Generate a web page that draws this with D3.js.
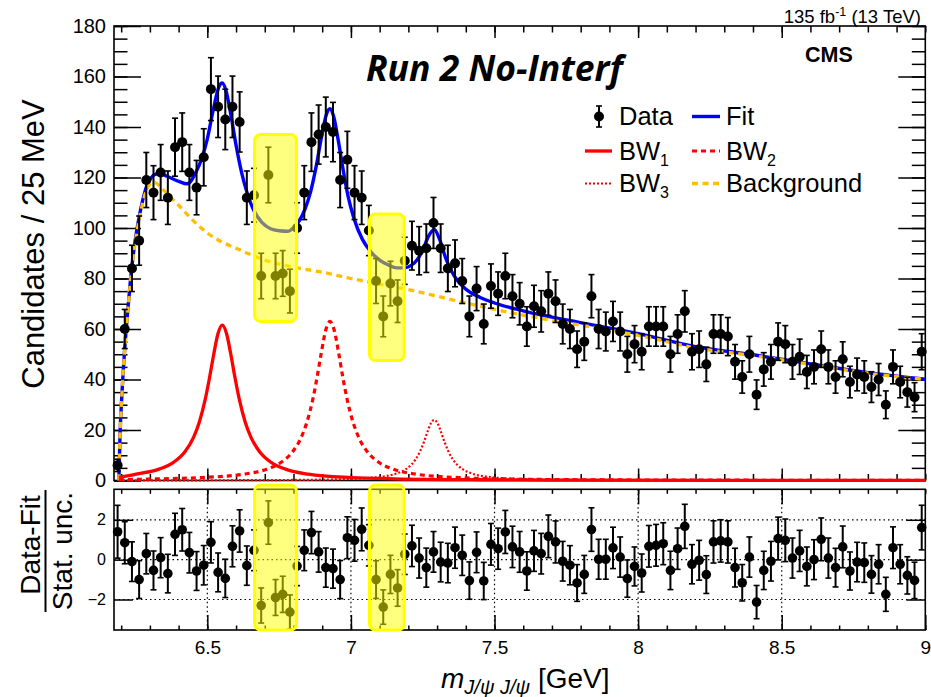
<!DOCTYPE html>
<html>
<head>
<meta charset="utf-8">
<script src="https://cdn.jsdelivr.net/npm/d3@7"></script>
<style>
  body { margin: 0; background: #fff; }
  svg { display: block; font-family: "Liberation Sans", Arial, Helvetica, sans-serif; }
</style>
</head>
<body>
<svg id="chart" width="931" height="697"></svg>
<script>
// ---- binning of the di-J/psi mass spectrum (25 MeV bins) ----
const binLow = 6.175;
const binWidth = 0.025;

// candidates per bin
const counts = [
  6, 60, 84, 95, 119, 114, 122, 112, 132, 134,
  122, 116, 128, 155, 148, 143, 148, 142, 112, 113,
  81, 121, 81, 82, 75, 100, 114, 134, 137, 140,
  138, 119, 127, 114, 112, 99, 79, 65, 78, 71,
  87, 93, 91, 92, 102, 92, 84, 86, 79, 65,
  76, 62, 77, 74, 81, 73, 70, 61, 69, 67,
  74, 71, 62, 60, 52, 55, 73, 60, 59, 63,
  59, 50, 54, 51, 61, 61, 61, 50, 58, 67,
  51, 52, 46, 58, 58, 57, 47, 41, 50, 34,
  44, 47, 55, 54, 47, 49, 43, 45, 52, 45,
  41, 48, 39, 42, 41, 37, 40, 30, 45, 39,
  35, 33, 51
];

// (data - fit) / stat. unc. per bin
const pulls = [
  1.4, 0.85, -0.1, -1.0, 0.3, -0.54, 0.1, -0.7, 1.27, 1.5,
  0.35, -0.57, -0.28, 0.87, -0.64, -0.94, 0.67, 1.44, -0.3, 0.47,
  -2.3, 1.86, -1.9, -1.74, -2.63, -0.32, 0.47, 1.36, 0.39, -0.4,
  -0.45, -1.0, 1.1, 0.97, 1.52, 0.72, -1.0, -2.38, -0.74, -1.42,
  0.27, 0.69, 0.08, -0.4, 0.39, -0.12, -0.17, 0.6, 0.22, -1.05,
  0.37, -1.07, 0.77, 0.55, 1.39, 0.64, 0.39, -0.57, 0.44, 0.3,
  1.17, 0.89, -0.08, -0.28, -1.17, -0.74, 1.51, 0.02, 0.02, 0.59,
  0.13, -0.95, -0.34, -0.67, 0.67, 0.72, 0.8, -0.54, 0.55, 1.67,
  -0.23, -0.03, -0.75, 0.89, 0.94, 0.89, -0.4, -1.16, 0.13, -2.13,
  -0.54, -0.08, 1.06, 0.97, 0.08, 0.44, -0.34, 0, 1.02, 0.08,
  -0.4, 0.64, -0.57, -0.12, -0.15, -0.74, -0.23, -1.74, 0.6, -0.23,
  -0.79, -1.04, 1.61
];

// fit model curves, [mass GeV, candidates / 25 MeV]
const fitCurve = [
  [6.192, 0], [6.196, 18], [6.203, 35], [6.211, 50], [6.22, 63.5], [6.23, 76.5],
  [6.24, 87.5], [6.25, 96], [6.262, 104], [6.275, 111], [6.29, 117], [6.305, 120],
  [6.32, 121.3], [6.335, 121.6], [6.36, 120.5], [6.4, 118.5], [6.43, 117.5], [6.46, 122],
  [6.48, 127.3], [6.5, 135.3], [6.52, 146.5], [6.54, 155.8], [6.552, 157.4], [6.565, 154.4],
  [6.58, 146.1], [6.6, 132.8], [6.62, 121.6], [6.64, 113.4], [6.66, 107.4], [6.69, 102.2],
  [6.72, 99.7], [6.75, 98.9], [6.78, 98.7], [6.8, 100.1], [6.82, 102.8], [6.84, 107.5],
  [6.86, 114.5], [6.88, 125], [6.9, 137.6], [6.915, 145.1], [6.927, 147.2], [6.94, 144.1],
  [6.955, 135.3], [6.97, 125], [6.99, 112.6], [7.01, 104], [7.04, 95.5], [7.07, 90.5],
  [7.1, 87.3], [7.13, 85.4], [7.16, 84.2], [7.19, 84.3], [7.21, 85.2], [7.23, 87.3],
  [7.25, 91.3], [7.27, 96.7], [7.29, 99.4], [7.31, 95.1], [7.33, 88.1], [7.35, 83],
  [7.37, 79.3], [7.4, 75.8], [7.45, 72.5], [7.5, 70.3], [7.6, 67.2], [7.8, 62.5],
  [8.0, 58.2], [8.2, 53], [8.4, 49.8], [8.6, 46.2], [8.8, 42.7], [9.0, 40.1]
];

const bw1Curve = [
  [6.192, 1.2], [6.252, 2.5], [6.332, 4.5], [6.382, 7.2], [6.422, 11.4], [6.452, 17.1],
  [6.472, 23.1], [6.492, 31.8], [6.507, 40.3], [6.522, 49.8], [6.537, 58.1], [6.552, 61.5],
  [6.567, 58.1], [6.582, 49.8], [6.597, 40.3], [6.612, 31.8], [6.632, 23.1], [6.652, 17.1],
  [6.682, 11.4], [6.722, 7.2], [6.772, 4.5], [6.852, 2.5], [7.002, 1.15], [7.152, 0.65],
  [7.452, 0.29], [7.852, 0.14], [8.4, 0.07], [9.0, 0.04]
];

const bw2Curve = [
  [6.192, 0.3], [6.327, 0.64], [6.477, 1.14], [6.627, 2.5], [6.707, 4.5], [6.757, 7.2],
  [6.797, 11.4], [6.827, 17.1], [6.847, 23.2], [6.867, 32.0], [6.882, 40.8], [6.897, 50.7],
  [6.912, 59.4], [6.927, 63], [6.942, 59.4], [6.957, 50.7], [6.972, 40.8], [6.987, 32.0],
  [7.007, 23.2], [7.027, 17.1], [7.057, 11.4], [7.097, 7.2], [7.147, 4.5], [7.227, 2.5],
  [7.377, 1.14], [7.527, 0.64], [7.827, 0.28], [8.227, 0.14], [9.0, 0.055]
];

const bw3Curve = [
  [6.192, 0.03], [6.49, 0.084], [6.79, 0.21], [6.96, 0.49], [7.06, 0.98], [7.12, 1.74],
  [7.16, 2.8], [7.19, 4.4], [7.21, 6.25], [7.226, 8.5], [7.242, 11.9], [7.254, 15.2],
  [7.266, 19.1], [7.278, 22.6], [7.29, 24], [7.302, 22.6], [7.314, 19.1], [7.326, 15.2],
  [7.338, 11.9], [7.354, 8.5], [7.37, 6.25], [7.39, 4.4], [7.42, 2.8], [7.46, 1.74],
  [7.52, 0.98], [7.62, 0.49], [7.79, 0.21], [8.09, 0.084], [8.39, 0.045], [9.0, 0.019]
];

const backgroundCurve = [
  [6.192, 0], [6.196, 18], [6.203, 35], [6.211, 50], [6.22, 63], [6.23, 76],
  [6.24, 87], [6.25, 95], [6.262, 103], [6.275, 110], [6.29, 115.5], [6.305, 117.8],
  [6.318, 118], [6.335, 116.5], [6.36, 113.5], [6.4, 109], [6.45, 103], [6.5, 98],
  [6.55, 94.5], [6.6, 92], [6.65, 89.5], [6.7, 87.3], [6.8, 84.5], [6.9, 82.5],
  [7.0, 80], [7.1, 77.8], [7.2, 75.6], [7.3, 73], [7.4, 70.3], [7.5, 67.8],
  [7.6, 65.5], [7.8, 61.5], [8.0, 57.5], [8.2, 52.5], [8.4, 49.5], [8.6, 46],
  [8.8, 42.5], [9.0, 40]
];

// axis ticks
const massTicks = [6.5, 7, 7.5, 8, 8.5, 9];
const massTickLabels = ["6.5", "7", "7.5", "8", "8.5", "9"];
const countTicks = [0, 20, 40, 60, 80, 100, 120, 140, 160, 180];
const pullTicks = [-2, 0, 2];
const pullTickLabels = ["\u22122", "0", "2"];

// highlighted bin groups: first/last bin index, count range in the upper pad
const highlights = [
  { first: 20, last: 24, low: 63, high: 137 },
  { first: 36, last: 39, low: 47.5, high: 105.5 }
];

// ---- geometry ----
const left = 114, right = 925.3;
const top1 = 26, bottom1 = 480.5;
const top2 = 489.3, bottom2 = 630;

const svg = d3.select("#chart");

const x = d3.scaleLinear().domain([binLow, 9.0]).range([left, right]);
const y = d3.scaleLinear().domain([0, 180]).range([bottom1, top1]);
const yp = d3.scaleLinear().domain([-3.53, 3.53]).range([bottom2, top2]);

const binCenter = i => binLow + (i + 0.5) * binWidth;

const font = '"Liberation Sans", Arial, Helvetica, sans-serif';

function styleAxis(g, fontSize) {
  g.select(".domain").remove();
  g.selectAll(".tick line").attr("stroke", "#000").attr("stroke-width", 1.5);
  g.selectAll(".tick text").attr("font-family", font).attr("font-size", fontSize).attr("fill", "#000");
}

// ================= upper pad =================
const upper = svg.append("g");

// y axis (left, with labels) and right mirror
upper.append("g").attr("transform", `translate(${left},0)`)
  .call(d3.axisLeft(y).tickValues(y.ticks(36)).tickSize(-13.5).tickFormat(""))
  .call(g => styleAxis(g, 0));
upper.append("g").attr("transform", `translate(${left},0)`)
  .call(d3.axisLeft(y).tickValues(countTicks).tickSize(-27).tickPadding(8).tickFormat(d3.format("d")))
  .call(g => styleAxis(g, 20));
upper.append("g").attr("transform", `translate(${right},0)`)
  .call(d3.axisRight(y).tickValues(y.ticks(36)).tickSize(-13.5).tickFormat(""))
  .call(g => styleAxis(g, 0));
upper.append("g").attr("transform", `translate(${right},0)`)
  .call(d3.axisRight(y).tickValues(countTicks).tickSize(-27).tickFormat(""))
  .call(g => styleAxis(g, 0));

// x ticks top and bottom, no labels
const minorMass = d3.range(62, 91).map(v => v / 10);
[[bottom1, d3.axisBottom], [top1, d3.axisTop]].forEach(([pos, ax]) => {
  upper.append("g").attr("transform", `translate(0,${pos})`)
    .call(ax(x).tickValues(minorMass).tickSize(-6.5).tickFormat(""))
    .call(g => styleAxis(g, 0));
  upper.append("g").attr("transform", `translate(0,${pos})`)
    .call(ax(x).tickValues(massTicks.slice(0, 5)).tickSize(-12).tickFormat(""))
    .call(g => styleAxis(g, 0));
});

upper.append("rect")
  .attr("x", left).attr("y", top1)
  .attr("width", right - left).attr("height", bottom1 - top1)
  .attr("fill", "none").attr("stroke", "#000").attr("stroke-width", 1.6);

const line = d3.line().x(d => x(d[0])).y(d => y(d[1])).curve(d3.curveMonotoneX);

upper.append("path").datum(fitCurve).attr("d", line)
  .attr("fill", "none").attr("stroke", "#0000ff").attr("stroke-width", 3.4);
upper.append("path").datum(backgroundCurve).attr("d", line)
  .attr("fill", "none").attr("stroke", "#ffbf00").attr("stroke-width", 3.3)
  .attr("stroke-dasharray", "6,4.5");
upper.append("path").datum(bw3Curve).attr("d", line)
  .attr("fill", "none").attr("stroke", "#ff0000").attr("stroke-width", 2.2)
  .attr("stroke-dasharray", "2,2");
upper.append("path").datum(bw2Curve).attr("d", line)
  .attr("fill", "none").attr("stroke", "#ff0000").attr("stroke-width", 3.2)
  .attr("stroke-dasharray", "5,4");
upper.append("path").datum(bw1Curve).attr("d", line)
  .attr("fill", "none").attr("stroke", "#ff0000").attr("stroke-width", 3.3);

// data points with Poisson error bars
const dataG = upper.append("g");
counts.forEach((n, i) => {
  const cx = x(binCenter(i));
  const err = Math.sqrt(n);
  const y0 = y(n - err), y1 = Math.max(y(n + err), top1);
  const g = dataG.append("g");
  g.append("line").attr("x1", cx).attr("x2", cx).attr("y1", Math.min(y0, bottom1)).attr("y2", y1)
    .attr("stroke", "#000").attr("stroke-width", 2);
  g.append("line").attr("x1", cx - 3).attr("x2", cx + 3).attr("y1", y1).attr("y2", y1)
    .attr("stroke", "#000").attr("stroke-width", 1.6);
  if (y0 < bottom1) {
    g.append("line").attr("x1", cx - 3).attr("x2", cx + 3).attr("y1", y0).attr("y2", y0)
      .attr("stroke", "#000").attr("stroke-width", 1.6);
  }
  g.append("circle").attr("cx", cx).attr("cy", y(n)).attr("r", 5).attr("fill", "#000");
});

// highlight boxes over selected bins
highlights.forEach(h => {
  const x0 = x(binLow + h.first * binWidth) - 3;
  const x1 = x(binLow + (h.last + 1) * binWidth) + 3;
  upper.append("rect")
    .attr("x", x0).attr("y", y(h.high))
    .attr("width", x1 - x0).attr("height", y(h.low) - y(h.high))
    .attr("rx", 6).attr("ry", 6)
    .attr("fill", "rgba(255,255,0,0.5)").attr("stroke", "#ffff00").attr("stroke-width", 3);
});

// labels in the upper pad
upper.append("text").attr("x", 921).attr("y", 23).attr("text-anchor", "end")
  .attr("font-size", 18.5).attr("font-family", font)
  .call(t => {
    t.append("tspan").text("135 fb");
    t.append("tspan").attr("dy", -7).attr("font-size", 12.5).text("-1");
    t.append("tspan").attr("dy", 7).text(" (13 TeV)");
  });
upper.append("text").attr("x", 805).attr("y", 62)
  .attr("font-size", 21.5).attr("font-weight", "bold").attr("font-family", font).text("CMS");
upper.append("text").attr("x", 366).attr("y", 81)
  .attr("font-size", 35.5).attr("font-weight", "bold").attr("font-style", "italic")
  .attr("font-family", '"Open Sans", "Noto Sans", sans-serif').text("Run 2 No-Interf");

// legend
const leg = upper.append("g").attr("font-family", font).attr("font-size", 25.5);
const legRows = [116.5, 151, 183.5];
// Data marker
leg.append("line").attr("x1", 599).attr("x2", 599).attr("y1", 106).attr("y2", 127)
  .attr("stroke", "#000").attr("stroke-width", 2);
leg.append("line").attr("x1", 596).attr("x2", 602).attr("y1", 106).attr("y2", 106)
  .attr("stroke", "#000").attr("stroke-width", 1.6);
leg.append("line").attr("x1", 596).attr("x2", 602).attr("y1", 127).attr("y2", 127)
  .attr("stroke", "#000").attr("stroke-width", 1.6);
leg.append("circle").attr("cx", 599).attr("cy", legRows[0]).attr("r", 5).attr("fill", "#000");
leg.append("text").attr("x", 619).attr("y", legRows[0] + 8.5).text("Data");
// Fit
leg.append("line").attr("x1", 692).attr("x2", 720).attr("y1", legRows[0]).attr("y2", legRows[0])
  .attr("stroke", "#0000ff").attr("stroke-width", 3.4);
leg.append("text").attr("x", 726).attr("y", legRows[0] + 8.5).text("Fit");
// BW entries with subscript index
function bwLabel(xp, yp0, idx) {
  const t = leg.append("text").attr("x", xp).attr("y", yp0 + 8.5);
  t.append("tspan").text("BW");
  t.append("tspan").attr("dy", 6).attr("font-size", 16).text(idx);
}
leg.append("line").attr("x1", 585).attr("x2", 612).attr("y1", legRows[1]).attr("y2", legRows[1])
  .attr("stroke", "#ff0000").attr("stroke-width", 3.3);
bwLabel(619, legRows[1], "1");
leg.append("line").attr("x1", 692).attr("x2", 720).attr("y1", legRows[1]).attr("y2", legRows[1])
  .attr("stroke", "#ff0000").attr("stroke-width", 3.2).attr("stroke-dasharray", "5,4");
bwLabel(726, legRows[1], "2");
leg.append("line").attr("x1", 585).attr("x2", 612).attr("y1", legRows[2]).attr("y2", legRows[2])
  .attr("stroke", "#ff0000").attr("stroke-width", 2.2).attr("stroke-dasharray", "2,2");
bwLabel(619, legRows[2], "3");
leg.append("line").attr("x1", 692).attr("x2", 720).attr("y1", legRows[2]).attr("y2", legRows[2])
  .attr("stroke", "#ffbf00").attr("stroke-width", 3.3).attr("stroke-dasharray", "6,4.5");
leg.append("text").attr("x", 726).attr("y", legRows[2] + 8.5).text("Background");

// y title
upper.append("text")
  .attr("transform", "translate(44,244) rotate(-90)")
  .attr("text-anchor", "middle").attr("font-family", font).attr("font-size", 31)
  .text("Candidates / 25 MeV");

// ================= lower pad =================
const lower = svg.append("g");

// grid
lower.selectAll(".vgrid").data(massTicks.slice(0, 5)).enter().append("line")
  .attr("x1", d => x(d)).attr("x2", d => x(d)).attr("y1", top2).attr("y2", bottom2)
  .attr("stroke", "#000").attr("stroke-width", 1.2).attr("stroke-dasharray", "1.5,3");
lower.selectAll(".hgrid").data(pullTicks).enter().append("line")
  .attr("x1", left).attr("x2", right).attr("y1", d => yp(d)).attr("y2", d => yp(d))
  .attr("stroke", "#000").attr("stroke-width", 1.2).attr("stroke-dasharray", "1.5,3");

lower.append("g").attr("transform", `translate(${left},0)`)
  .call(d3.axisLeft(yp).tickValues(pullTicks).tickSize(-19).tickPadding(8)
    .tickFormat((d, i) => pullTickLabels[i]))
  .call(g => styleAxis(g, 16));
lower.append("g").attr("transform", `translate(${right},0)`)
  .call(d3.axisRight(yp).tickValues(pullTicks).tickSize(-19).tickFormat(""))
  .call(g => styleAxis(g, 0));

[[bottom2, d3.axisBottom], [top2, d3.axisTop]].forEach(([pos, ax], k) => {
  lower.append("g").attr("transform", `translate(0,${pos})`)
    .call(ax(x).tickValues(minorMass).tickSize(-4.5).tickFormat(""))
    .call(g => styleAxis(g, 0));
  lower.append("g").attr("transform", `translate(0,${pos})`)
    .call(ax(x).tickValues(k === 0 ? massTicks : massTicks.slice(0, 5)).tickSize(-15).tickPadding(11)
      .tickFormat((d, i) => k === 0 ? massTickLabels[i] : ""))
    .call(g => styleAxis(g, 19));
});

lower.append("rect")
  .attr("x", left).attr("y", top2)
  .attr("width", right - left).attr("height", bottom2 - top2)
  .attr("fill", "none").attr("stroke", "#000").attr("stroke-width", 1.6);

// pulls with error bars: bar = sqrt(N) / sqrt(fit), fit recovered from N and pull
const pullG = lower.append("g");
pulls.forEach((r, i) => {
  const n = counts[i];
  const s = (-r + Math.sqrt(r * r + 4 * n)) / 2;
  const half = Math.sqrt(n) / s;
  const cx = x(binCenter(i));
  const ya = yp(r - half), yb = yp(r + half);
  pullG.append("line").attr("x1", cx).attr("x2", cx).attr("y1", ya).attr("y2", yb)
    .attr("stroke", "#000").attr("stroke-width", 2);
  [ya, yb].forEach(v => pullG.append("line").attr("x1", cx - 3).attr("x2", cx + 3)
    .attr("y1", v).attr("y2", v).attr("stroke", "#000").attr("stroke-width", 1.6));
  pullG.append("circle").attr("cx", cx).attr("cy", yp(r)).attr("r", 4.8).attr("fill", "#000");
});

highlights.forEach(h => {
  const x0 = x(binLow + h.first * binWidth) - 3;
  const x1 = x(binLow + (h.last + 1) * binWidth) + 3;
  lower.append("rect")
    .attr("x", x0).attr("y", 485)
    .attr("width", x1 - x0).attr("height", 145)
    .attr("rx", 6).attr("ry", 6)
    .attr("fill", "rgba(255,255,0,0.5)").attr("stroke", "#ffff00").attr("stroke-width", 3);
});

// pull title as a fraction
lower.append("text").attr("transform", "translate(40,545) rotate(-90)")
  .attr("text-anchor", "middle").attr("font-family", font).attr("font-size", 28).text("Data-Fit");
lower.append("line").attr("x1", 45.5).attr("x2", 45.5).attr("y1", 490).attr("y2", 612)
  .attr("stroke", "#000").attr("stroke-width", 2);
lower.append("text").attr("transform", "translate(72,551) rotate(-90)")
  .attr("text-anchor", "middle").attr("font-family", font).attr("font-size", 28).text("Stat. unc.");

// x title
svg.append("text").attr("x", 441).attr("y", 688).attr("font-family", font).attr("font-size", 28)
  .call(t => {
    t.append("tspan").attr("font-style", "italic").text("m");
    t.append("tspan").attr("font-style", "italic").attr("font-size", 20).attr("dy", 6).text("J/\u03C8 J/\u03C8");
    t.append("tspan").attr("dy", -6).text(" [GeV]");
  });
</script>
</body>
</html>
